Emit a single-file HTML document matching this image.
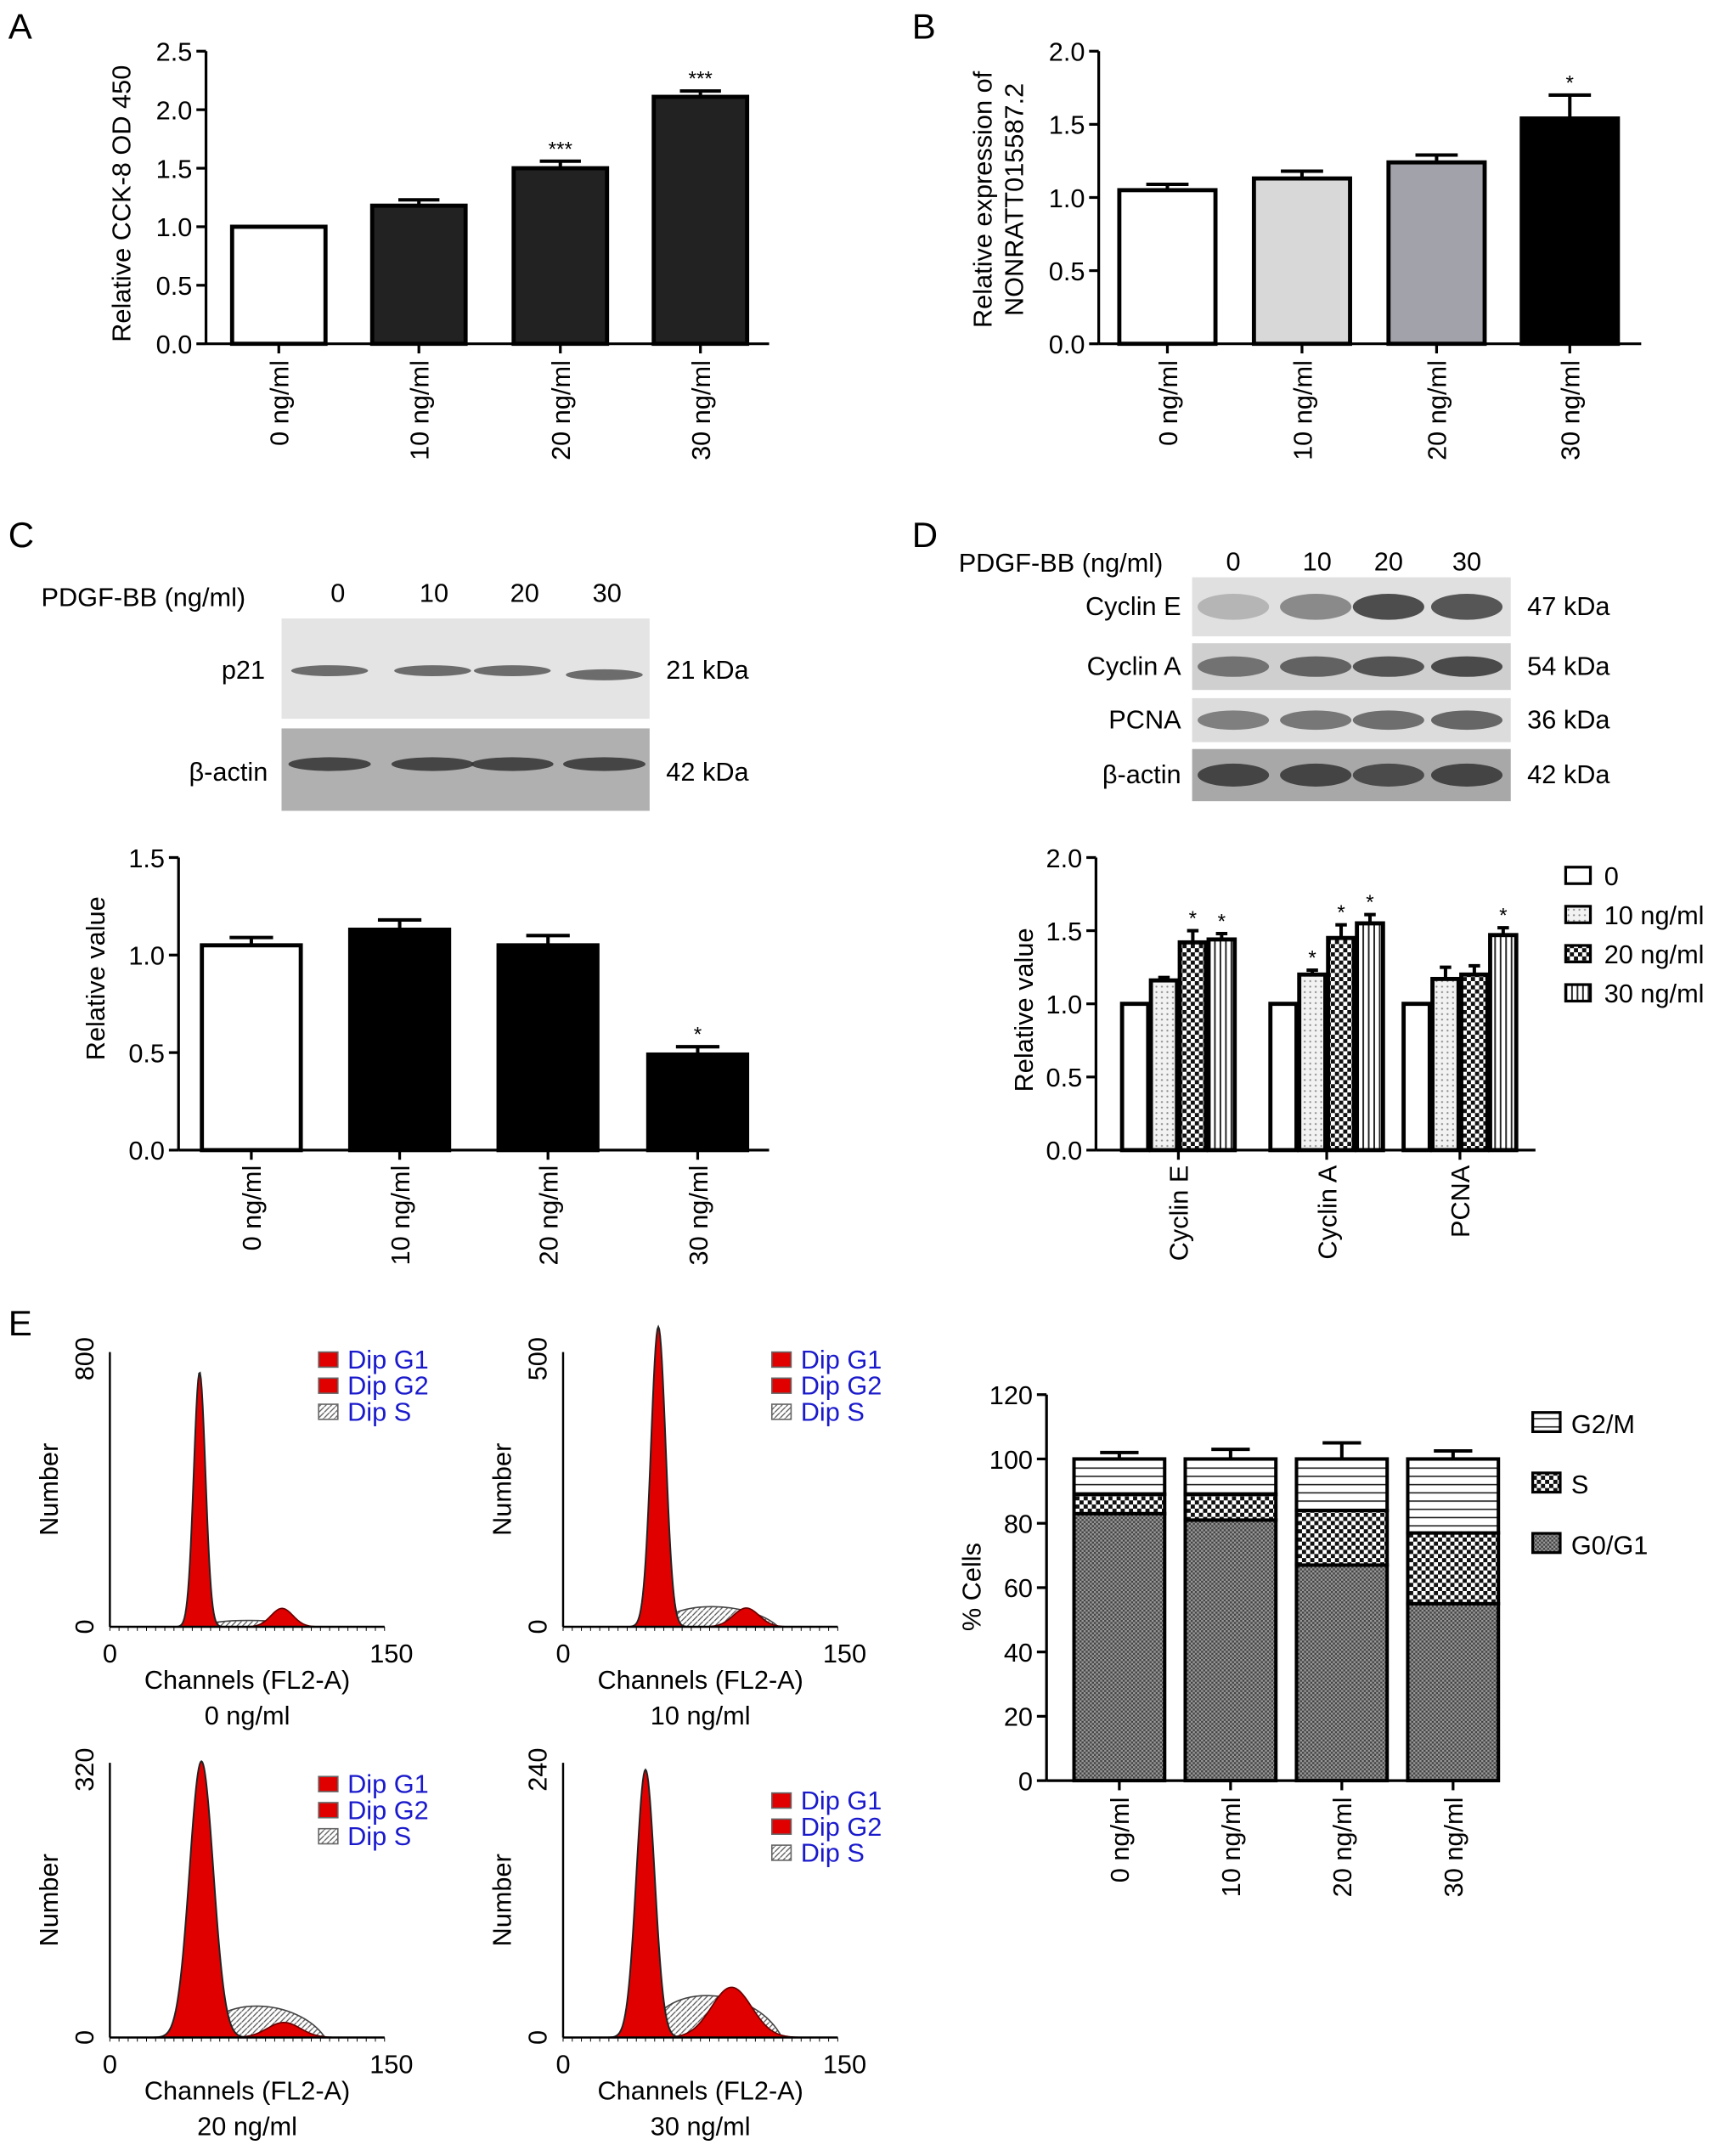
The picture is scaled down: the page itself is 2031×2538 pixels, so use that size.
<!DOCTYPE html>
<html><head><meta charset="utf-8"><style>
html,body{margin:0;padding:0;background:#fff}
svg{display:block;font-family:"Liberation Sans",sans-serif}
</style></head><body>
<svg id="fig" width="2031" height="2538" viewBox="0 0 1256 1569" xmlns="http://www.w3.org/2000/svg">
<defs>
<pattern id="pDot" width="4" height="4" patternUnits="userSpaceOnUse"><rect width="4" height="4" fill="#f2f2f2"/><circle cx="2" cy="2" r="0.7" fill="#888"/></pattern>
<pattern id="pCheck" width="6" height="6" patternUnits="userSpaceOnUse"><rect width="6" height="6" fill="#fff"/><rect width="3" height="3" fill="#111"/><rect x="3" y="3" width="3" height="3" fill="#111"/></pattern>
<pattern id="pVert" width="4" height="4" patternUnits="userSpaceOnUse"><rect width="4" height="4" fill="#fff"/><rect width="1.2" height="4" fill="#222"/></pattern>
<pattern id="pHor" width="6" height="6" patternUnits="userSpaceOnUse"><rect width="6" height="6" fill="#fff"/><rect width="6" height="1" fill="#222"/></pattern>
<pattern id="pFine" width="3" height="3" patternUnits="userSpaceOnUse"><rect width="3" height="3" fill="#999"/><rect width="1.5" height="1.5" fill="#444"/><rect x="1.5" y="1.5" width="1.5" height="1.5" fill="#444"/></pattern>
<pattern id="pHatch" width="4" height="4" patternUnits="userSpaceOnUse"><rect width="4" height="4" fill="#fff"/><path d="M0,4L4,0" stroke="#555" stroke-width="0.8"/></pattern>
</defs>
<g id="root"></g>
</svg>
<script>
// ---- data ----
const aCats=["0 ng/ml","10 ng/ml","20 ng/ml","30 ng/ml"];
const aVals=[1.0,1.18,1.5,2.11];
const aErr=[0,0.05,0.06,0.05];
const aSig=["","","***","***"];
const bVals=[1.05,1.13,1.24,1.54];
const bErr=[0.04,0.05,0.05,0.16];
const bSig=["","","","*"];
const cVals=[1.05,1.13,1.05,0.49];
const cErr=[0.04,0.05,0.05,0.04];
const cSig=["","","","*"];
const dGroups=["Cyclin E","Cyclin A","PCNA"];
const dSeries=["0","10 ng/ml","20 ng/ml","30 ng/ml"];
const dVals=[[1,1.16,1.42,1.44],[1,1.2,1.45,1.55],[1,1.17,1.2,1.47]];
const dErr=[[0,0.02,0.08,0.04],[0,0.03,0.09,0.06],[0,0.08,0.06,0.05]];
const dSig=[["","","*","*"],["","*","*","*"],["","","","*"]];
const eG1=[83,81,67,55];
const eS=[6,8,17,22];
const eG2=[11,11,16,23];
const eErr=[2,3,5,2.5];
const ticksA=[0,0.5,1,1.5,2,2.5];
const ticksB=[0,0.5,1,1.5,2];
const ticksC=[0,0.5,1,1.5];
const ticksE=[0,20,40,60,80,100,120];

const NS="http://www.w3.org/2000/svg";
const root=document.getElementById('root');
const FS=19;
function el(tag,attrs,parent,text){const e=document.createElementNS(NS,tag);for(const k in attrs)e.setAttribute(k,attrs[k]);if(text!==undefined)e.textContent=text;(parent||root).appendChild(e);return e;}

function axisY(g,x,y0,y1,vmax,ticks,intFmt){
  const sc=v=>y0-(y0-y1)*v/vmax;
  el('line',{x1:x,y1:y0,x2:x,y2:sc(vmax),stroke:'#000','stroke-width':2},g);
  ticks.forEach(t=>{el('line',{x1:x-7,y1:sc(t),x2:x,y2:sc(t),stroke:'#000','stroke-width':2},g);
    const tx=el('text',{x:x-10,y:sc(t)+7,'text-anchor':'end','font-size':FS},g,intFmt?String(t):t.toFixed(1));
    });
  return sc;
}
function catLabels(g,xs,y,labels){
  xs.forEach((x,i)=>{const t=el('text',{x:0,y:0,transform:`translate(${x+7},${y}) rotate(-90)`,'text-anchor':'end','font-size':FS},g,labels[i]);
  });
}
function ylabel(g,x,y,lines){
  lines.forEach((l,i)=>{const t=el('text',{x:0,y:0,transform:`translate(${x+i*23},${y}) rotate(-90)`,'text-anchor':'middle','font-size':FS},g,l);
  });
}
function panelLetter(x,y,s){const t=el('text',{x:x,y:y,'font-size':26},root,s);}
function simpleBar(g,sc,y0,cx,w,v,e,fill,sig){
  const b=el('rect',{x:cx-w/2,y:sc(v),width:w,height:y0-sc(v),fill:fill,stroke:'#000','stroke-width':3},g);
  
  if(e>0){el('line',{x1:cx,y1:sc(v),x2:cx,y2:sc(v+e),stroke:'#000','stroke-width':2.5},g);
    el('line',{x1:cx-w*0.22,y1:sc(v+e),x2:cx+w*0.22,y2:sc(v+e),stroke:'#000','stroke-width':2.5},g);}
  if(sig){el('text',{x:cx,y:sc(v+e)-4,'text-anchor':'middle','font-size':15},g,sig);}
}

// ---- Panel A ----
panelLetter(6,28,'A');
(function(){const g=el('g',{}); 
 const y0=250,sc=axisY(g,150,y0,37,2.5,ticksA);
 const xs=[203,305,408,510];
 el('line',{x1:150,y1:y0,x2:560,y2:y0,stroke:'#000','stroke-width':2},g);
 xs.forEach((x,i)=>{el('line',{x1:x,y1:y0,x2:x,y2:y0+7,stroke:'#000','stroke-width':2},g);simpleBar(g,sc,y0,x,68,aVals[i],aErr[i],i==0?'#fff':'#222',aSig[i]);});
 catLabels(g,xs,262,aCats);ylabel(g,95,148,["Relative CCK-8 OD 450"]);})();

// ---- Panel B ----
panelLetter(664,28,'B');
(function(){const g=el('g',{});
 const y0=250,sc=axisY(g,800,y0,37,2.0,ticksB);
 const xs=[850,948,1046,1143],fills=['#fff','#d8d8d8','#a2a2aa','#000'];
 el('line',{x1:800,y1:y0,x2:1195,y2:y0,stroke:'#000','stroke-width':2},g);
 xs.forEach((x,i)=>{el('line',{x1:x,y1:y0,x2:x,y2:y0+7,stroke:'#000','stroke-width':2},g);simpleBar(g,sc,y0,x,70,bVals[i],bErr[i],fills[i],bSig[i]);});
 catLabels(g,xs,262,aCats);ylabel(g,722,145,["Relative expression of","NONRATT015587.2"]);})();

// ---- Panel C blots ----
panelLetter(6,398,'C');
(function(){const g=el('g',{});
 el('text',{x:30,y:441,'font-size':FS},g,'PDGF-BB (ng/ml)');
 [['0',246],['10',316],['20',382],['30',442]].forEach(d=>el('text',{x:d[1],y:438,'text-anchor':'middle','font-size':FS},g,d[0]));
 el('rect',{x:205,y:450,width:268,height:73,fill:'#e4e4e4'},g);
 el('rect',{x:205,y:530,width:268,height:60,fill:'#b0b0b0'},g);
 [240,315,373,440].forEach((x,i)=>{el('ellipse',{cx:x,cy:488+(i==3?3:0),rx:28,ry:4,fill:'#444',opacity:0.75},g);el('ellipse',{cx:x,cy:556,rx:30,ry:5,fill:'#333',opacity:0.85},g);});
 el('text',{x:193,y:494,'text-anchor':'end','font-size':FS},g,'p21');
 el('text',{x:195,y:568,'text-anchor':'end','font-size':FS},g,'β-actin');
 el('text',{x:485,y:494,'font-size':FS},g,'21 kDa');
 el('text',{x:485,y:568,'font-size':FS},g,'42 kDa');})();
(function(){const g=el('g',{});
 const y0=837,sc=axisY(g,130,y0,624,1.5,ticksC);
 const xs=[183,291,399,508];
 el('line',{x1:130,y1:y0,x2:560,y2:y0,stroke:'#000','stroke-width':2},g);
 xs.forEach((x,i)=>{el('line',{x1:x,y1:y0,x2:x,y2:y0+7,stroke:'#000','stroke-width':2},g);simpleBar(g,sc,y0,x,72,cVals[i],cErr[i],i==0?'#fff':'#000',cSig[i]);});
 catLabels(g,xs,848,aCats);ylabel(g,76,712,["Relative value"]);})();

// ---- Panel D blots ----
panelLetter(664,398,'D');
(function(){const g=el('g',{});
 el('text',{x:698,y:416,'font-size':FS},g,'PDGF-BB (ng/ml)');
 [['0',898],['10',959],['20',1011],['30',1068]].forEach(d=>el('text',{x:d[1],y:415,'text-anchor':'middle','font-size':FS},g,d[0]));
 const rows=[['Cyclin E',420,43,'#e0e0e0','47 kDa',[0.25,0.5,0.85,0.8]],['Cyclin A',468,34,'#cfcfcf','54 kDa',[0.6,0.7,0.8,0.85]],['PCNA',508,32,'#dcdcdc','36 kDa',[0.55,0.6,0.65,0.7]],['β-actin',545,38,'#a8a8a8','42 kDa',[0.85,0.85,0.8,0.85]]];
 rows.forEach(r=>{el('rect',{x:868,y:r[1],width:232,height:r[2],fill:r[3]},g);
  [898,958,1011,1068].forEach((x,i)=>el('ellipse',{cx:x,cy:r[1]+r[2]/2,rx:26,ry:r[2]*0.22,fill:'#333',opacity:r[5][i]},g));
  el('text',{x:860,y:r[1]+r[2]/2+6,'text-anchor':'end','font-size':FS},g,r[0]);
  el('text',{x:1112,y:r[1]+r[2]/2+6,'font-size':FS},g,r[4]);});})();
(function(){const g=el('g',{});
 const y0=837,sc=axisY(g,798,y0,624,2.0,ticksB);
 el('line',{x1:798,y1:y0,x2:1118,y2:y0,stroke:'#000','stroke-width':2},g);
 const centers=[858,966,1063],fills=['#fff','url(#pDot)','url(#pCheck)','url(#pVert)'];
 dGroups.forEach((gn,gi)=>{el('line',{x1:centers[gi],y1:y0,x2:centers[gi],y2:y0+7,stroke:'#000','stroke-width':2},g);
  dVals[gi].forEach((v,si)=>{simpleBar(g,sc,y0,centers[gi]+(si-1.5)*21,19,v,dErr[gi][si],fills[si],dSig[gi][si]);});});
 catLabels(g,centers,848,dGroups);ylabel(g,752,735,["Relative value"]);
 dSeries.forEach((s,i)=>{const y=637+i*28.5;const r=el('rect',{x:1140,y:y-6,width:18,height:12,fill:fills[i],stroke:'#000','stroke-width':2},g);
  
  el('text',{x:1168,y:y+7,'font-size':FS},g,s);});})();

// ---- Panel E histograms (decorative) ----
panelLetter(6,972,'E');
function gauss(ox,oy,sx,sy,c,s,h){let d=`M${ox+(c-4*s)*sx},${oy}`;for(let x=c-4*s;x<=c+4*s;x+=0.5){d+=` L${ox+x*sx},${oy-h*sy*Math.exp(-((x-c)*(x-c))/(2*s*s))}`;}return d+` L${ox+(c+4*s)*sx},${oy}Z`;}
function hist(ox,oy,ymax,title,p){
 const g=el('g',{});
 const sx=200/150,sy=195/ymax;
 const a=ox+p.g1c*sx,b=ox+(p.g2c+2.5*p.g2s)*sx,hS=p.sh*sy;
 el('path',{d:`M${a},${oy} C${a+10},${oy-hS*1.3} ${b-20},${oy-hS*1.2} ${b},${oy}Z`,fill:'url(#pHatch)',stroke:'#444','stroke-width':1},g);
 el('path',{d:gauss(ox,oy,sx,sy,p.g2c,p.g2s,p.g2h),fill:'#e00000',stroke:'#600','stroke-width':1},g);
 el('path',{d:gauss(ox,oy,sx,sy,p.g1c,p.g1s,p.g1h),fill:'#e00000',stroke:'#222','stroke-width':1.2},g);
 el('line',{x1:ox,y1:oy,x2:ox,y2:oy-200,stroke:'#000','stroke-width':1.5},g);
 el('line',{x1:ox,y1:oy,x2:ox+200,y2:oy,stroke:'#000','stroke-width':1.5},g);
 for(let t=0;t<=150;t+=5){el('line',{x1:ox+t*sx,y1:oy,x2:ox+t*sx,y2:oy+3,stroke:'#000','stroke-width':0.6},g);}
 el('text',{x:0,y:0,transform:`translate(${ox-12},${oy}) rotate(-90)`,'text-anchor':'middle','font-size':FS},g,'0');
 el('text',{x:0,y:0,transform:`translate(${ox-12},${oy-ymax*sy}) rotate(-90)`,'text-anchor':'middle','font-size':FS},g,String(ymax));
 el('text',{x:0,y:0,transform:`translate(${ox-38},${oy-100}) rotate(-90)`,'text-anchor':'middle','font-size':FS},g,'Number');
 el('text',{x:ox,y:oy+26,'text-anchor':'middle','font-size':FS},g,'0');
 el('text',{x:ox+205,y:oy+26,'text-anchor':'middle','font-size':FS},g,'150');
 el('text',{x:ox+100,y:oy+45,'text-anchor':'middle','font-size':FS},g,'Channels (FL2-A)');
 el('text',{x:ox+100,y:oy+71,'text-anchor':'middle','font-size':FS},g,title);
 [['Dip G1','#e00000'],['Dip G2','#e00000'],['Dip S','url(#pHatch)']].forEach((l,i)=>{const y=oy-188+i*19+p.ly;
  el('rect',{x:ox+152,y:y-12,width:14,height:11,fill:l[1],stroke:'#666','stroke-width':1},g);
  el('text',{x:ox+173,y:y,'font-size':FS,fill:'#1a1acc'},g,l[0]);});
}
hist(80,1184,800,'0 ng/ml',{g1c:49,g1s:3.2,g1h:760,g2c:94,g2s:6,g2h:55,sh:20,ly:0});
hist(410,1184,500,'10 ng/ml',{g1c:52,g1s:4,g1h:560,g2c:100,g2s:7,g2h:35,sh:40,ly:0});
hist(80,1483,320,'20 ng/ml',{g1c:50,g1s:6.5,g1h:330,g2c:95,g2s:9,g2h:18,sh:40,ly:10});
hist(410,1483,240,'30 ng/ml',{g1c:45,g1s:5,g1h:240,g2c:92,g2s:11,g2h:45,sh:40,ly:22});

// ---- Panel E stacked bars ----
(function(){const g=el('g',{});
 const y0=1296,sc=axisY(g,762,y0,1015,120,ticksE,true);
 el('line',{x1:762,y1:y0,x2:1092,y2:y0,stroke:'#000','stroke-width':2},g);
 const xs=[815,896,977,1058],w=66;
 xs.forEach((x,i)=>{el('line',{x1:x,y1:y0,x2:x,y2:y0+7,stroke:'#000','stroke-width':2},g);
  const segs=[[0,eG1[i],'url(#pFine)'],[eG1[i],eG1[i]+eS[i],'url(#pCheck)'],[eG1[i]+eS[i],eG1[i]+eS[i]+eG2[i],'url(#pHor)']];
  segs.forEach(s=>{const r=el('rect',{x:x-w/2,y:sc(s[1]),width:w,height:sc(s[0])-sc(s[1]),fill:s[2],stroke:'#000','stroke-width':2.5},g);
   });
  const top=eG1[i]+eS[i]+eG2[i];
  el('line',{x1:x,y1:sc(top),x2:x,y2:sc(top+eErr[i]),stroke:'#000','stroke-width':2.5},g);
  el('line',{x1:x-14,y1:sc(top+eErr[i]),x2:x+14,y2:sc(top+eErr[i]),stroke:'#000','stroke-width':2.5},g);
 });
 catLabels(g,xs,1308,aCats);ylabel(g,714,1155,["% Cells"]);
 [['G2/M','url(#pHor)',1036],['S','url(#pCheck)',1080],['G0/G1','url(#pFine)',1124]].forEach(l=>{
  const r=el('rect',{x:1116,y:l[2]-8,width:20,height:14,fill:l[1],stroke:'#000','stroke-width':2},g);
  
  el('text',{x:1144,y:l[2]+7,'font-size':FS},g,l[0]);});})();
</script>
</body></html>
